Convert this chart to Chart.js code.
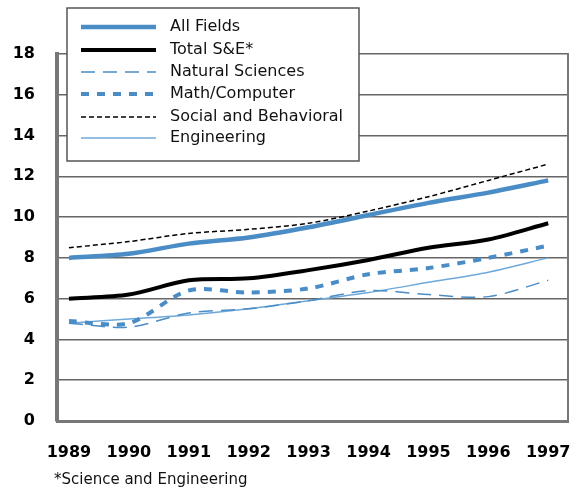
<!doctype html>
<html>
<head>
	<meta charset="utf-8">
	<title>S&E degrees</title>
	<style>
		body { margin: 0; background: #fff; }
		#holder { width: 572px; height: 492px; }
	</style>
</head>
<body>
	<div id="holder">
		<canvas id="chart-area"></canvas>
	</div>
	<script src="https://cdn.jsdelivr.net/npm/chart.js@4/dist/chart.umd.min.js"></script>
	<script>
	var years = [1989, 1990, 1991, 1992, 1993, 1994, 1995, 1996, 1997];
	var yTicks = [0, 2, 4, 6, 8, 10, 12, 14, 16, 18];
	var allFields = [8.0, 8.2, 8.7, 9.0, 9.5, 10.1, 10.7, 11.2, 11.8];
	var totalSE = [6.0, 6.2, 6.9, 7.0, 7.4, 7.9, 8.5, 8.9, 9.7];
	var naturalSciences = [4.8, 4.6, 5.3, 5.5, 5.9, 6.4, 6.2, 6.1, 6.9];
	var mathComputer = [4.9, 4.8, 6.4, 6.3, 6.5, 7.2, 7.5, 8.0, 8.6];
	var socialBehavioral = [8.5, 8.8, 9.2, 9.4, 9.7, 10.3, 11.0, 11.8, 12.6];
	var engineering = [4.8, 5.0, 5.2, 5.5, 5.9, 6.3, 6.8, 7.3, 8.0];
	var footnote = '*Science and Engineering';

	var blue = '#4a8cc6';
	var lightBlue = '#6fa9d9';

	function pts(vals) {
		return vals.map(function(v, i) { return { x: years[i], y: v }; });
	}

	var datasets = [
		{ label: 'All Fields', data: pts(allFields), borderColor: blue, borderWidth: 4.5 },
		{ label: 'Total S&E*', data: pts(totalSE), borderColor: '#000', borderWidth: 4 },
		{ label: 'Natural Sciences', data: pts(naturalSciences), borderColor: blue, borderWidth: 1.5, borderDash: [14, 8] },
		{ label: 'Math/Computer', data: pts(mathComputer), borderColor: blue, borderWidth: 4, borderDash: [8, 8] },
		{ label: 'Social and Behavioral', data: pts(socialBehavioral), borderColor: '#000', borderWidth: 1.5, borderDash: [5, 3] },
		{ label: 'Engineering', data: pts(engineering), borderColor: lightBlue, borderWidth: 1.5 }
	];
	datasets.forEach(function(d) {
		d.pointRadius = 0;
		d.tension = 0.3;
		d.fill = false;
	});

	// legend box drawn on top of the plot, plus footnote
	var boxLegend = {
		id: 'boxLegend',
		afterDraw: function(chart) {
			var ctx = chart.ctx;
			ctx.save();
			ctx.fillStyle = '#fff';
			ctx.fillRect(67, 8, 292, 153);
			ctx.strokeStyle = '#555';
			ctx.lineWidth = 1.5;
			ctx.strokeRect(67, 8, 292, 153);
			var rows = [27, 50, 72, 94, 117, 138];
			chart.data.datasets.forEach(function(d, i) {
				var y = rows[i];
				ctx.beginPath();
				ctx.strokeStyle = d.borderColor;
				ctx.lineWidth = d.borderWidth;
				ctx.setLineDash(d.borderDash || []);
				ctx.moveTo(81, y);
				ctx.lineTo(156, y);
				ctx.stroke();
				ctx.setLineDash([]);
				ctx.fillStyle = '#111';
				ctx.font = '16px "DejaVu Sans"';
				ctx.textBaseline = 'middle';
				ctx.textAlign = 'left';
				ctx.fillText(d.label, 170, y);
			});
			ctx.font = '15px "DejaVu Sans"';
			ctx.fillText(footnote, 54, 480);
			ctx.restore();
		}
	};

	var config = {
		type: 'line',
		data: { datasets: datasets },
		plugins: [boxLegend],
		options: {
			responsive: true,
			maintainAspectRatio: false,
			animation: false,
			layout: { padding: { top: 54, right: 3, left: 0, bottom: 0 } },
			plugins: { legend: { display: false }, tooltip: { enabled: false } },
			scales: {
				x: {
					type: 'linear',
					min: 1988.8,
					max: 1997.33,
					afterBuildTicks: function(axis) {
						axis.ticks = years.map(function(y) { return { value: y }; });
					},
					afterFit: function(axis) {
						axis.height = 71;
						axis.paddingLeft = 0;
						axis.paddingRight = 0;
					},
					grid: { display: false, drawTicks: false },
					border: { display: true, color: '#777', width: 3 },
					ticks: {
						padding: 22,
						color: '#000',
						font: { family: 'DejaVu Sans', size: 16, weight: 'bold' },
						callback: function(v) { return String(v); }
					}
				},
				y: {
					min: 0,
					max: 18,
					afterBuildTicks: function(axis) {
						axis.ticks = yTicks.map(function(v) { return { value: v }; });
					},
					afterFit: function(axis) {
						axis.width = 57;
						axis.paddingTop = 0;
						axis.paddingBottom = 0;
					},
					grid: { color: '#666', lineWidth: 1.5, drawTicks: false },
					border: { display: true, color: '#777', width: 4 },
					ticks: {
						padding: 22,
						color: '#000',
						font: { family: 'DejaVu Sans', size: 16, weight: 'bold' }
					}
				},
				y2: {
					position: 'right',
					min: 0,
					max: 18,
					grid: { display: false, drawTicks: false },
					border: { display: true, color: '#777', width: 2 },
					ticks: { display: false },
					afterFit: function(axis) {
						axis.width = 1;
						axis.paddingTop = 0;
						axis.paddingBottom = 0;
					}
				}
			}
		}
	};

	window.onload = function() {
		var ctx = document.getElementById('chart-area').getContext('2d');
		window.myLine = new Chart(ctx, config);
	};
	</script>
</body>
</html>
